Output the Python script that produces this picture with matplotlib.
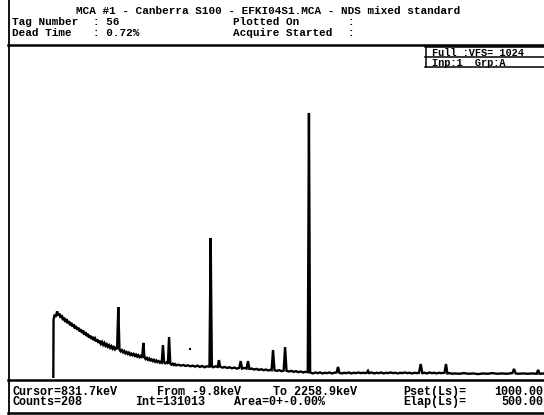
import matplotlib
matplotlib.use("Agg")
import matplotlib.pyplot as plt

# MCA spectrum (energy in keV, counts)
spectrum_pts = [
    (182, 0), (183, 180), (188, 195), (193, 188), (198, 205), (203, 192), (208, 198),
    (213, 185), (218, 193), (223, 178), (228, 186), (233, 172), (238, 181), (243, 168),
    (248, 175), (253, 162), (258, 170), (263, 158), (268, 165), (273, 152), (278, 160),
    (283, 148), (288, 155), (293, 143), (298, 150), (303, 139), (308, 146), (313, 133),
    (318, 141), (323, 129), (328, 136), (333, 124), (338, 131), (343, 120), (348, 127),
    (353, 116), (358, 122), (363, 112), (368, 119), (373, 108), (378, 115), (383, 105),
    (388, 111), (393, 102), (398, 108), (403, 99), (408, 104), (413, 96), (418, 101),
    (423, 93), (428, 98), (433, 90), (438, 95), (443, 88), (448, 93), (452, 89),
    (457, 218), (462, 87), (467, 82), (472, 86), (477, 79), (482, 83), (487, 76),
    (492, 80), (497, 74), (502, 78), (507, 71), (512, 75), (517, 70), (522, 74),
    (527, 68), (532, 72), (537, 66), (542, 70), (547, 64), (552, 68), (558, 62),
    (563, 108), (568, 63), (573, 58), (578, 62), (583, 56), (588, 60), (593, 54),
    (598, 57), (603, 52), (608, 56), (613, 50), (618, 54), (623, 49), (628, 52),
    (633, 47), (638, 50), (641, 48), (646, 101), (651, 48), (656, 45), (661, 48),
    (667, 44), (672, 126), (677, 44), (682, 41), (687, 44), (692, 40), (697, 43),
    (702, 39), (712, 41), (722, 38), (732, 40), (742, 37), (752, 39), (762, 36),
    (772, 38), (782, 35), (792, 38), (802, 34), (812, 37), (822, 33), (832, 36),
    (843, 35), (848, 430), (853, 36), (858, 33), (868, 36), (878, 34), (883, 55),
    (888, 35), (898, 32), (908, 34), (918, 31), (928, 33), (938, 30), (948, 32),
    (958, 29), (969, 31), (975, 52), (981, 29), (990, 31), (1000, 29), (1006, 52),
    (1012, 28), (1022, 29), (1032, 26), (1042, 28), (1052, 25), (1062, 27), (1072, 24),
    (1082, 26), (1092, 23), (1102, 25), (1106, 24), (1112, 86), (1118, 24), (1128, 22),
    (1138, 24), (1148, 21), (1157, 23), (1163, 95), (1169, 22), (1179, 20), (1189, 22),
    (1199, 19), (1209, 21), (1219, 18), (1229, 20), (1239, 17), (1249, 19), (1259, 18),
    (1264, 815), (1269, 17), (1281, 14), (1291, 17), (1301, 15), (1311, 17), (1321, 14),
    (1331, 16), (1341, 15), (1351, 17), (1361, 14), (1371, 16), (1381, 17), (1387, 34),
    (1393, 16), (1403, 14), (1413, 16), (1423, 15), (1433, 17), (1443, 14), (1453, 16),
    (1463, 15), (1473, 17), (1483, 15), (1493, 16), (1503, 15), (1509, 16), (1514, 22),
    (1519, 15), (1530, 17), (1540, 14), (1550, 16), (1560, 15), (1570, 17), (1580, 14),
    (1590, 16), (1600, 15), (1610, 17), (1620, 15), (1630, 16), (1640, 14), (1650, 16),
    (1660, 15), (1670, 17), (1680, 15), (1690, 16), (1700, 14), (1710, 16), (1720, 15),
    (1730, 16), (1737, 43), (1744, 15), (1754, 16), (1764, 14), (1774, 17), (1784, 15),
    (1794, 16), (1804, 14), (1814, 16), (1824, 15), (1838, 16), (1844, 43), (1850, 14),
    (1860, 15), (1870, 13), (1880, 14), (1900, 13), (1920, 15), (1940, 13), (1960, 14),
    (1980, 12), (2000, 14), (2020, 13), (2040, 15), (2060, 13), (2080, 14), (2100, 13),
    (2125, 15), (2132, 28), (2139, 14), (2150, 13), (2170, 14), (2190, 13), (2210, 14),
    (2228, 13), (2234, 25), (2240, 13), (2259, 14),
]
stray_kev = [761]
stray_counts = [89]

e_from, e_to = -9.8, 2258.9
vfs = 1024

title = "MCA #1 - Canberra S100 - EFKI04S1.MCA - NDS mixed standard"
hdr_left = [("Tag Number", ": 56"), ("Dead Time", ": 0.72%")]
hdr_right = [("Plotted On", ":"), ("Acquire Started", ":")]
box_rows = ["Full :VFS= 1024", "Inp:1  Grp:A"]
status_row1 = ["Cursor=831.7keV", "From -9.8keV", "To 2258.9keV", "Pset(Ls)=", "1000.00"]
status_row2 = ["Counts=208", "Int=131013", "Area=0+-0.00%", "Elap(Ls)=", "500.00"]

mono = ["Liberation Mono", "DejaVu Sans Mono"]

fig = plt.figure(figsize=(5.44, 4.15), dpi=100)
fig.patch.set_facecolor("white")

# frame / text layer in screen pixels
scr = fig.add_axes([0, 0, 1, 1])
scr.set_xlim(0, 544)
scr.set_ylim(415, 0)
scr.axis("off")

scr.plot([8.5, 8.5], [0, 415], color="black", lw=1.3)
scr.plot([8, 544], [45.5, 45.5], color="black", lw=1.8)
scr.plot([8, 544], [379.5, 379.5], color="black", lw=1.8)
scr.plot([8, 544], [413, 413], color="black", lw=1.8)
# VFS box top right
scr.plot([425.5, 425.5], [47.5, 67.5], color="black", lw=1.1)
scr.plot([425, 544], [47.5, 47.5], color="black", lw=1.1)
scr.plot([425, 544], [57.5, 57.5], color="black", lw=1.1)
scr.plot([425, 544], [67.5, 67.5], color="black", lw=1.1)

tkw = dict(family=mono, weight="bold", va="center", color="black")
scr.text(76, 11.5, title, fontsize=7.9, **tkw)
for i, (lab, val) in enumerate(hdr_left):
    y = 22 + i * 10.5
    scr.text(11.5, y, lab, fontsize=7.9, **tkw)
    scr.text(93, y, val, fontsize=7.9, **tkw)
for i, (lab, val) in enumerate(hdr_right):
    y = 22 + i * 10.5
    scr.text(233, y, lab, fontsize=7.9, **tkw)
    scr.text(348, y, val, fontsize=7.9, **tkw)
for i, row in enumerate(box_rows):
    scr.text(432, 52.6 + i * 10, row, fontsize=7.4, **tkw)

col_x = [12.5, 157, 273, 403, 543]
for i, row in enumerate([status_row1, status_row2]):
    y = 391.5 + i * 10.5
    for j, s in enumerate(row):
        x = col_x[j]
        if j == 1 and i == 1:
            x = 135
        if j == 2 and i == 1:
            x = 234
        if j == 4:
            scr.text(x, y, s, fontsize=8.5, ha="right", **tkw)
        else:
            scr.text(x, y, s, fontsize=8.5, **tkw)

# spectrum area
ax = fig.add_axes([8 / 544, 1 - 378 / 415, 536 / 544, (378 - 45) / 415])
ax.axis("off")
energy = [p[0] for p in spectrum_pts]
counts = [p[1] for p in spectrum_pts]
ax.plot(energy, counts, color="black", lw=1.7, solid_joinstyle="miter")
ax.scatter(stray_kev, stray_counts, s=4, color="black", marker="s", linewidths=0)
ax.set_xlim(e_from, e_to)
ax.set_ylim(0, vfs)

fig.savefig("out.png", dpi=100, facecolor="white")
